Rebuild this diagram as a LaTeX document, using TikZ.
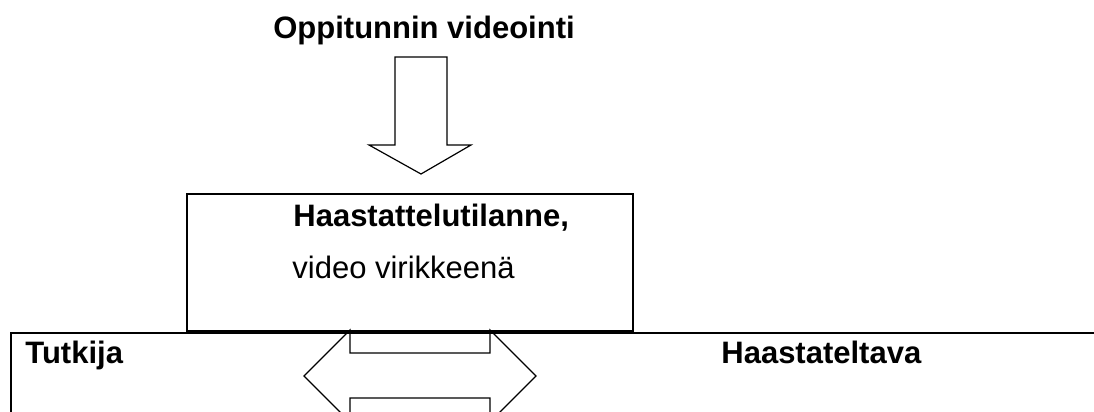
\documentclass[tikz,border=0pt]{standalone}
\usepackage{fontspec}
\setmainfont{Liberation Sans}

\begin{document}
\begin{tikzpicture}[x=0.5pt,y=-0.5pt]
\useasboundingbox (0,0) rectangle (1094,412);
\clip (0,0) rectangle (1094,412);
\node[font=\bfseries\fontsize{15.5}{18}\selectfont,text=black,anchor=base,inner sep=0pt] (title) at (424,39) {Oppitunnin videointi};
\draw[black,line width=0.6pt] (395,57) -- (447,57) -- (447,145) -- (471,145) -- (421,174) -- (369,145) -- (395,145) -- cycle;

\draw[black,line width=1pt] (187,194) rectangle (633,331);
\node[font=\bfseries\fontsize{15.5}{18}\selectfont,text=black,anchor=base west,inner sep=0pt] (tilanne) at (293,226) {Haastattelutilanne,};
\node[font=\fontsize{15.5}{18}\selectfont,text=black,anchor=base west,inner sep=0pt] (virike) at (292,278) {video virikkeenä};

\draw[black,line width=0.6pt] (350,330) -- (350,353) -- (490,353) -- (490,330) -- (536,376) -- (490,422) -- (490,398) -- (350,398) -- (350,422) -- (304,376) -- cycle;
\draw[black,line width=1pt] (1100,333) -- (11,333) -- (11,420);
\node[font=\bfseries\fontsize{15.5}{18}\selectfont,text=black,anchor=base west,inner sep=0pt] (tutkija) at (25,363) {Tutkija};
\node[font=\bfseries\fontsize{15.5}{18}\selectfont,text=black,anchor=base west,inner sep=0pt] (haast) at (721,363) {Haastateltava};
\end{tikzpicture}
\end{document}
